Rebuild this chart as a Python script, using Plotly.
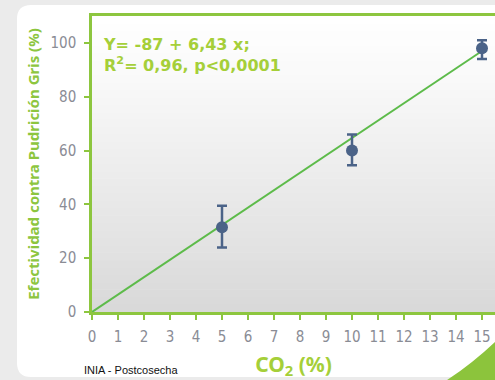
import plotly.graph_objects as go

# ---- data ----
co2 = [5, 10, 15]
efectividad = [31.5, 60, 98]
err_plus = [8, 6, 3]
err_minus = [7.5, 5.5, 4]
fit_x = [0, 15]
fit_y = [0, 97]
x_ticks = list(range(0, 16))
y_ticks = [0, 20, 40, 60, 80, 100]

GREEN_AX = "#8dc63f"
GREEN_TXT = "#a5cf39"
GREEN_LINE = "#5dbb4a"
BLUE = "#4b6388"
TICKFONT = dict(family="DejaVu Sans Condensed, Liberation Sans Narrow, sans-serif", size=15, color="#8a8c95")

W, H = 495, 380
L, R, T, B = 92, 0, 16, 68
pw, ph = W - L - R, H - T - B

def px(x):
    return (x - L) / pw

def py(y):
    return (H - B - y) / ph

fig = go.Figure()

fig.add_trace(go.Scatter(x=fit_x, y=fit_y, mode="lines",
                         line=dict(color=GREEN_LINE, width=2), hoverinfo="skip",
                         showlegend=False, cliponaxis=False))
fig.add_trace(go.Scatter(x=co2, y=efectividad, mode="markers",
                         marker=dict(color=BLUE, size=12),
                         error_y=dict(type="data", symmetric=False, array=err_plus,
                                      arrayminus=err_minus, color=BLUE, thickness=2.5, width=5),
                         showlegend=False, cliponaxis=False))

shapes = []
# card (rounded white rectangle)
r = 14
x0, y0, x1, y1 = 17, 5, 520, 377
path = (f"M {px(x0+r)},{py(y0)} L {px(x1)},{py(y0)} L {px(x1)},{py(y1)} "
        f"L {px(x0+r)},{py(y1)} Q {px(x0)},{py(y1)} {px(x0)},{py(y1-r)} "
        f"L {px(x0)},{py(y0+r)} Q {px(x0)},{py(y0)} {px(x0+r)},{py(y0)} Z")
shapes.append(dict(type="path", path=path, xref="paper", yref="paper",
                   fillcolor="white", line=dict(width=0), layer="below"))
# gradient plot background
n = 40
for i in range(n):
    f = i / (n - 1)
    c = int(255 - 38 * (1 - f) ** 1.2)
    shapes.append(dict(type="rect", xref="paper", yref="paper",
                       x0=0, x1=1.05, y0=i / n, y1=(i + 1) / n + 0.002,
                       fillcolor=f"rgb({c},{c},{c})", line=dict(width=0), layer="below"))
# green swoosh bottom right
sw = (f"M {px(444)},{py(382)} Q {px(472)},{py(364)} {px(497)},{py(340)} "
      f"L {px(497)},{py(382)} Z")
shapes.append(dict(type="path", path=sw, xref="paper", yref="paper",
                   fillcolor="#8cc43c", line=dict(width=0), layer="above"))

fig.update_layout(
    width=W, height=H,
    margin=dict(l=L, r=R, t=T, b=B),
    paper_bgcolor="#ebebeb",
    plot_bgcolor="rgba(0,0,0,0)",
    shapes=shapes,
    xaxis=dict(range=[0, 15.5], tickvals=x_ticks, ticks="outside", ticklen=5,
               tickwidth=2, tickcolor=GREEN_AX, showline=True, linecolor=GREEN_AX,
               linewidth=2.5, mirror=True, showgrid=False, zeroline=False,
               tickfont=TICKFONT, ticklabelstandoff=4,
               title=dict(text="<b>CO<sub>2</sub> (%)</b>", standoff=13,
                          font=dict(family="Noto Sans, sans-serif", size=21, color=GREEN_TXT))),
    yaxis=dict(range=[0, 110], tickvals=y_ticks, ticks="outside", ticklen=5,
               tickwidth=2, tickcolor=GREEN_AX, showline=True, linecolor=GREEN_AX,
               linewidth=2.5, showgrid=False, zeroline=False, tickfont=TICKFONT,
               ticklabelstandoff=5,
               title=dict(text="<b>Efectividad contra Pudrición Gris (%)</b>", standoff=8,
                          font=dict(family="Noto Sans, sans-serif", size=15, color=GREEN_AX))),
    annotations=[
        dict(x=px(101), y=py(33), xref="paper", yref="paper", xanchor="left", yanchor="top",
             align="left", showarrow=False,
             text="<b>Y= -87 + 6,43 x;<br>R<sup>2</sup>= 0,96, p<0,0001</b>",
             font=dict(family="DejaVu Sans, sans-serif", size=16, color=GREEN_TXT)),
        dict(x=px(82), y=py(370), xref="paper", yref="paper", xanchor="left", yanchor="middle",
             showarrow=False, text="INIA - Postcosecha",
             font=dict(family="Liberation Sans, Arial, sans-serif", size=11, color="#111111")),
    ],
)

fig.write_html("out.html", config={"displayModeBar": False},
               post_script="document.body.style.margin='0';document.body.style.background='#ebebeb';")
